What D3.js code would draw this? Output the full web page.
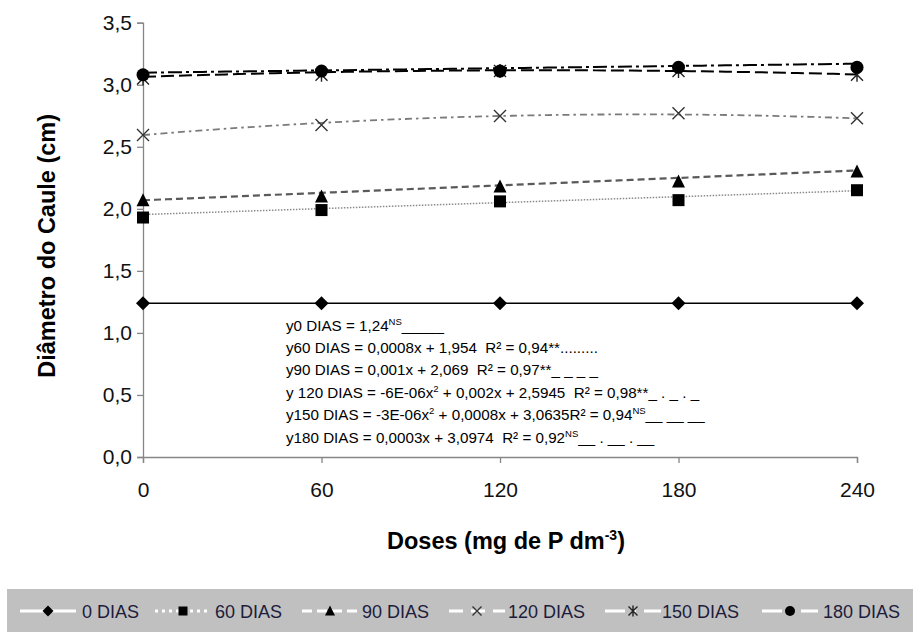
<!DOCTYPE html>
<html>
<head>
<meta charset="utf-8">
<script src="https://cdn.jsdelivr.net/npm/d3@7"></script>
<style>
  html, body { margin: 0; padding: 0; background: #fff; }
  svg { display: block; font-family: "Liberation Sans", Arial, sans-serif; }
  text { white-space: pre; }
</style>
</head>
<body>
<svg id="chart" width="913" height="632"></svg>
<script>
// Doses of P (x values) and axis ticks
const doses = [0, 60, 120, 180, 240];
const yTicks = [0, 0.5, 1.0, 1.5, 2.0, 2.5, 3.0, 3.5];

// Stem diameter (cm) by sampling age
const seriesNames = ["0 DIAS", "60 DIAS", "90 DIAS", "120 DIAS", "150 DIAS", "180 DIAS"];
const dias0   = [1.24, 1.24, 1.24, 1.24, 1.24];
const dias60  = [1.93, 1.99, 2.06, 2.07, 2.15];
const dias90  = [2.07, 2.10, 2.18, 2.22, 2.30];
const dias120 = [2.595, 2.675, 2.748, 2.77, 2.73];
const dias150 = [3.05, 3.08, 3.11, 3.11, 3.08];
const dias180 = [3.08, 3.11, 3.11, 3.14, 3.14];

// Fitted trend coefficients [a, b, c] for y = a*x^2 + b*x + c
const trend0   = [0, 0, 1.24];
const trend60  = [0, 0.0008, 1.954];
const trend90  = [0, 0.001, 2.069];
const trend120 = [-6e-6, 0.002, 2.5945];
const trend150 = [-3e-6, 0.0008, 3.0635];
const trend180 = [0, 0.0003, 3.0974];

// Regression equation labels: [text, superscript?]
const eqLabels = [
  [["y0 DIAS = 1,24", 0], ["NS", 1], ["_____", 0]],
  [["y60 DIAS = 0,0008x + 1,954  R\u00B2 = 0,94**.........", 0]],
  [["y90 DIAS = 0,001x + 2,069  R\u00B2 = 0,97**_ _ _ _", 0]],
  [["y 120 DIAS = -6E-06x", 0], ["2", 1], [" + 0,002x + 2,5945  R\u00B2 = 0,98**_ . _ . _", 0]],
  [["y150 DIAS = -3E-06x", 0], ["2", 1], [" + 0,0008x + 3,0635R\u00B2 = 0,94", 0], ["NS", 1], ["__ __ __", 0]],
  [["y180 DIAS = 0,0003x + 3,0974  R\u00B2 = 0,92", 0], ["NS", 1], ["__ . __ . __", 0]]
];

const seriesValues = [dias0, dias60, dias90, dias120, dias150, dias180];
const trends = [trend0, trend60, trend90, trend120, trend150, trend180];

const styles = [
  { stroke: "#000",    width: 1.5, dash: null,           marker: "diamond" },
  { stroke: "#8a8a8a", width: 1.5, dash: "1.5,1.5",      marker: "square" },
  { stroke: "#5a5a5a", width: 2.2, dash: "7,4",          marker: "triangle" },
  { stroke: "#7a7a7a", width: 1.8, dash: "7,4,2.5,4",    marker: "cross" },
  { stroke: "#000",    width: 2,   dash: "13,5",         marker: "asterisk" },
  { stroke: "#000",    width: 2,   dash: "14,4,3,4",     marker: "circle" }
];
const legendLineDash = [null, "3,4", "10,5", "14,8", "20,8,3,8", "20,8,3,8"];

const svg = d3.select("#chart");

const x = d3.scaleLinear().domain([0, 240]).range([143, 857]);
const y = d3.scaleLinear().domain([0, 3.5]).range([457, 22.7]);

// Axes
const yAxis = d3.axisLeft(y).tickValues(yTicks).tickSize(6).tickPadding(5)
  .tickFormat(d => d.toFixed(1).replace(".", ","));
const xAxis = d3.axisBottom(x).tickValues(doses).tickSize(6).tickPadding(19)
  .tickFormat(d => String(d));

const gy = svg.append("g").attr("transform", `translate(${x(0)},0)`).call(yAxis);
const gx = svg.append("g").attr("transform", `translate(0,${y(0)})`).call(xAxis);
[gx, gy].forEach(g => {
  g.select(".domain").attr("stroke", "#868686").attr("stroke-width", 1.3);
  g.selectAll(".tick line").attr("stroke", "#868686").attr("stroke-width", 1.3);
  g.selectAll(".tick text").attr("fill", "#111").attr("font-size", 21)
    .attr("font-family", "Liberation Sans, Arial, sans-serif");
});

// Axis titles
svg.append("text")
  .attr("transform", `translate(55,${(y(0) + y(3.5)) / 2 + 6}) rotate(-90)`)
  .attr("text-anchor", "middle").attr("font-weight", "bold").attr("font-size", 23.5)
  .attr("fill", "#000")
  .text("Diâmetro do Caule (cm)");

const xt = svg.append("text")
  .attr("x", (x(0) + x(240)) / 2 + 6).attr("y", 549)
  .attr("text-anchor", "middle").attr("font-weight", "bold").attr("font-size", 23.5)
  .attr("fill", "#000");
xt.append("tspan").text("Doses (mg de P dm");
xt.append("tspan").attr("font-size", 14).attr("dy", -9).text("-3");
xt.append("tspan").attr("dy", 9).text(")");

// Trend lines
const xs = d3.range(0, 241, 4);
const line = d3.line().x(d => x(d[0])).y(d => y(d[1]));
trends.forEach((c, i) => {
  const pts = xs.map(v => [v, c[0] * v * v + c[1] * v + c[2]]);
  svg.append("path").attr("d", line(pts)).attr("fill", "none")
    .attr("stroke", styles[i].stroke).attr("stroke-width", styles[i].width)
    .attr("stroke-dasharray", styles[i].dash);
});

// Marker shapes
function drawMarker(g, type, cx, cy, s) {
  const h = s / 2;
  if (type === "diamond") {
    g.append("path").attr("d", `M${cx},${cy - h - 1}L${cx + h + 1},${cy}L${cx},${cy + h + 1}L${cx - h - 1},${cy}Z`).attr("fill", "#000");
  } else if (type === "square") {
    g.append("rect").attr("x", cx - h).attr("y", cy - h).attr("width", s).attr("height", s).attr("fill", "#000");
  } else if (type === "triangle") {
    g.append("path").attr("d", `M${cx},${cy - h - 1}L${cx + h + 0.5},${cy + h}L${cx - h - 0.5},${cy + h}Z`).attr("fill", "#000");
  } else if (type === "circle") {
    g.append("circle").attr("cx", cx).attr("cy", cy).attr("r", h + 0.5).attr("fill", "#000");
  } else if (type === "cross") {
    g.append("path").attr("d", `M${cx - h},${cy - h}L${cx + h},${cy + h}M${cx - h},${cy + h}L${cx + h},${cy - h}`)
      .attr("stroke", "#333").attr("stroke-width", 1.4).attr("fill", "none");
  } else if (type === "asterisk") {
    g.append("path").attr("d",
      `M${cx - h},${cy - h}L${cx + h},${cy + h}M${cx - h},${cy + h}L${cx + h},${cy - h}M${cx},${cy - h - 1}L${cx},${cy + h + 1}`)
      .attr("stroke", "#222").attr("stroke-width", 1.4).attr("fill", "none");
  }
}

// Data markers (circles drawn last so they sit on top)
seriesValues.forEach((vals, i) => {
  const g = svg.append("g");
  vals.forEach((v, j) => drawMarker(g, styles[i].marker, x(doses[j]), y(v), 12));
});

// Regression equations
const eqG = svg.append("g").attr("font-size", 15.2).attr("fill", "#000");
eqLabels.forEach((parts, k) => {
  const t = eqG.append("text").attr("x", 286).attr("y", 330.5 + k * 22.4);
  parts.forEach(([s, sup], idx) => {
    let dy = 0;
    if (sup) dy = -6;
    else if (idx > 0 && parts[idx - 1][1]) dy = 6;
    t.append("tspan").attr("font-size", sup ? 9.5 : null).attr("dy", dy).text(s);
  });
});

// Legend
const legendY = 611;
svg.append("rect").attr("x", 7).attr("y", 589).attr("width", 906).attr("height", 43).attr("fill", "#c0c0c0");
const legendMarkerX = [48, 183, 330, 477, 633, 790];
const legendTextX = [82, 215, 362, 508, 662, 823];
seriesNames.forEach((name, i) => {
  const g = svg.append("g");
  const mx = legendMarkerX[i];
  g.append("line").attr("x1", mx - 28).attr("x2", mx + 28).attr("y1", legendY).attr("y2", legendY)
    .attr("stroke", "#fff").attr("stroke-width", 3).attr("stroke-dasharray", legendLineDash[i]);
  drawMarker(g, styles[i].marker, mx, legendY, 9);
  g.append("text").attr("x", legendTextX[i]).attr("y", legendY + 6.5)
    .attr("font-size", 18).attr("fill", "#1c1c3c").text(name);
});
</script>
</body>
</html>
